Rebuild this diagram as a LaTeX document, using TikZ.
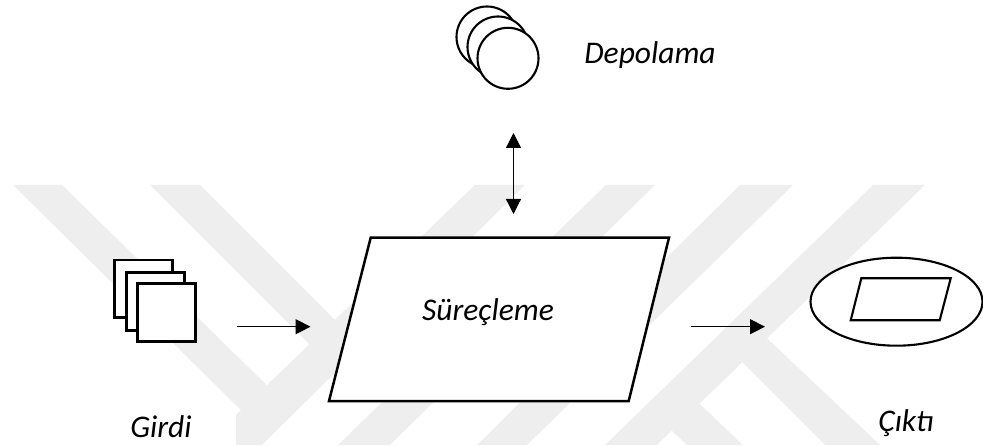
\documentclass[tikz,border=0pt]{standalone}
\usepackage{fontspec}
\setmainfont{Carlito}
\usetikzlibrary{arrows.meta}
\definecolor{wm}{HTML}{EEEEEE}
\tikzset{
  wmark/.style={fill=wm,draw=none},
  shapeline/.style={draw=black,fill=white,line width=2.5pt,line join=miter},
  thinshape/.style={draw=black,fill=white,line width=2.1pt},
  conn/.style={draw=black,line width=1.2pt,-{Triangle[length=15pt,width=15pt]}},
  connboth/.style={draw=black,line width=1.2pt,{Triangle[length=15pt,width=15pt]}-{Triangle[length=15pt,width=15pt]}},
  lbl/.style={inner sep=0pt,anchor=base,font=\fontsize{31.5}{36}\selectfont\itshape}
}
\begin{document}
\begin{tikzpicture}[x=1pt,y=-1pt]
\useasboundingbox (0,0) rectangle (983,446);
% watermark
\fill[wmark] (13,185)--(62,185)--(280,398)--(255,424)--cycle;
\fill[wmark] (150,185)--(200,185)--(350,335)--(325,360)--cycle;
\fill[wmark] (475,185)--(525,185)--(262,445)--(204.6,445)--cycle;
\fill[wmark] (606,185)--(655,185)--(390,445)--(338,445)--cycle;
\fill[wmark] (740,185)--(793,185)--(527,445)--(477,445)--cycle;
\fill[wmark] (873,185)--(925,185)--(657,445)--(605,445)--cycle;
\fill[wmark] (753,325)--(880,445)--(825,445)--(728,348)--cycle;
\fill[wmark] (685,390)--(743,445)--(687,445)--(657,417)--cycle;
\fill[white] (0,410) rectangle (236,446);
% storage
\draw[thinshape] (487,37) circle[radius=30.5];
\draw[thinshape] (498,47) circle[radius=30.5];
\draw[thinshape] (508,58.3) circle[radius=30.5];
\node[lbl] (depolama) at (650,64) {Depolama};
% input
\draw[shapeline] (114.3,260) rectangle (172.7,317.7);
\draw[shapeline] (126.7,272.3) rectangle (184.3,330.7);
\draw[shapeline] (137.3,283.3) rectangle (195.7,341.7);
\node[lbl] (girdi) at (161,437) {Girdi};
% process
\draw[shapeline] (370.7,237.7)--(669,237.7)--(628.7,401)--(329,401)--cycle;
\node[lbl] (surecleme) at (488,321) {Süreçleme};
% output
\draw[thinshape] (896.5,301.7) ellipse[x radius=86,y radius=44];
\draw[thinshape] (861.3,278.3)--(950.7,278.3)--(939.7,320.3)--(850.7,320.3)--cycle;
\node[lbl] (cikti) at (906,431) {Çıktı};
% connectors
\coordinate (a1) at (237,326.7);
\coordinate (a2) at (310.5,326.7);
\coordinate (b1) at (691.3,326.7);
\coordinate (b2) at (765,326.7);
\coordinate (c1) at (513.5,133);
\coordinate (c2) at (513.5,214);
\draw[conn] (a1) -- (a2);
\draw[conn] (b1) -- (b2);
\draw[connboth] (c1) -- (c2);
\end{tikzpicture}
\end{document}
